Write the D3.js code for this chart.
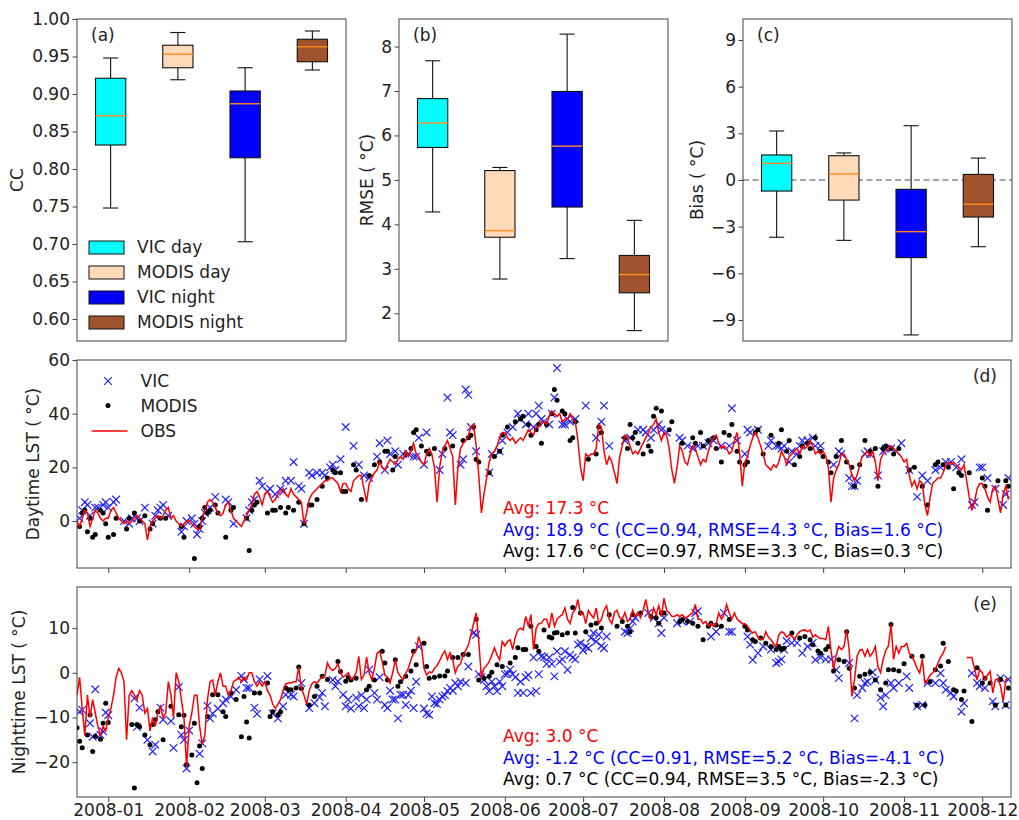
<!DOCTYPE html>
<html>
<head>
<meta charset="utf-8">
<script src="https://cdn.jsdelivr.net/npm/d3@7"></script>
<style>
body { margin: 0; background: #fff; }
svg { font-family: "DejaVu Sans", sans-serif; }
</style>
</head>
<body>
<div id="chart"></div>
<script>
// ---- box plot data: [low whisker, Q1, median, Q3, high whisker]
var groups = ["VIC day", "MODIS day", "VIC night", "MODIS night"];
var groupColors = ["#00ffff", "#ffdab9", "#0000ff", "#a0522d"];
var ccStats = [
  [0.748, 0.832, 0.871, 0.921, 0.948],
  [0.919, 0.935, 0.953, 0.965, 0.982],
  [0.703, 0.815, 0.887, 0.904, 0.935],
  [0.932, 0.943, 0.963, 0.973, 0.984]
];
var rmseStats = [
  [4.28, 5.73, 6.28, 6.83, 7.68],
  [2.77, 3.71, 3.86, 5.21, 5.28],
  [3.23, 4.39, 5.76, 6.99, 8.28],
  [1.61, 2.46, 2.87, 3.30, 4.09]
];
var biasStats = [
  [-3.68, -0.71, 1.07, 1.61, 3.15],
  [-3.88, -1.29, 0.39, 1.56, 1.74],
  [-9.96, -4.99, -3.32, -0.60, 3.49],
  [-4.29, -2.38, -1.56, 0.36, 1.41]
];
var ccTicks = [0.60, 0.65, 0.70, 0.75, 0.80, 0.85, 0.90, 0.95, 1.00];
var rmseTicks = [2, 3, 4, 5, 6, 7, 8];
var biasTicks = [-9, -6, -3, 0, 3, 6, 9];

// ---- daily series, first value = 2007-12-20
var firstDay = new Date(2007, 11, 20);
var lastDay = new Date(2008, 11, 12);

var obsDay = [
  0, -2, 1, 4, 3, -2, 1, 4, 3, 1, 0, 1,
  1, 4, 5, 3, 1, 0, -1, 0, -1, 0, 1, 2, 1, 0, -1, -7, -2, 0, 1, 2, 1, 2, 4, 5, 1, 2, 0, -1, -2, -1, 0,
  0, -1, -2, -3, -3, 1, 4, 7, 8, 7, 5, 3, 2, 3, 6, 7, 4, 1, 0, -1, -2, 0, 2, 4, 6, 10, 11, 9, 6,
  10, 11, 9, 7, 8, 10, 11, 12, 10, 9, 12, 10, 9, 8, 7, -1, 3, 8, 10, 11, 12, 13, 14, 15, 15, 16, 16, 15, 14, 11, 14,
  14, 12, 11, 15, 16, 17, 17, 12, 7, 14, 16, 18, 19, 22, 20, 19, 21, 23, 22, 21, 23, 24, 23, 26, 24, 26, 29, 25, 24, 22,
  21, 25, 27, 25, 20, 7, 20, 26, 28, 30, 27, 24, 6, 20, 27, 29, 30, 32, 35, 36, 28, 17, 3, 10, 16, 22, 25, 26, 28, 31, 33,
  33, 31, 30, 31, 29, 30, 31, 30, 32, 34, 33, 32, 35, 35, 37, 37, 36, 39, 41, 40, 39, 40, 37, 38, 38, 40, 38, 37, 30, 20,
  15, 25, 24, 25, 25, 27, 36, 35, 26, 21, 24, 22, 18, 14, 24, 28, 32, 31, 28, 25, 26, 25, 27, 29, 31, 33, 35, 36, 38, 33, 30,
  33, 32, 27, 19, 14, 20, 28, 26, 22, 21, 25, 28, 27, 24, 21, 23, 22, 26, 29, 31, 32, 29, 27, 28, 27, 25, 26, 30, 33, 25, 13,
  22, 24, 28, 31, 33, 31, 28, 25, 21, 20, 19, 21, 20, 22, 26, 24, 21, 24, 25, 26, 27, 25, 28, 27, 28, 30, 28, 25, 26, 25,
  26, 24, 20, 7, 16, 19, 21, 25, 25, 23, 21, 17, 15, 17, 21, 24, 25, 26, 24, 26, 22, 15, 23, 25, 26, 27, 28, 27, 26, 25, 24,
  22, 23, 17, 13, 15, 12, 15, 14, 6, 2, 9, 14, 15, 16, 16, 18, 21, 22, 21, 22, 21, 20, 19, 21, 15, 9, 4, 7, 12, 14,
  14, 12, 9, 7, 12, 13, 8, 3, 10, 13, 8
];

var vicDay = [
  null, 1, 4, 7, 6, 2, null, 5, 5, null, 6, 7,
  5, null, 7, 8, null, null, 0, null, -1, 1, null, 1, 0, null, 5, null, null, -1, 2, 4, 5, 6, null, 2, null, null, null, null, -4, -2, 0,
  null, 1, -1, -5, -3, 0, 3, 4, 5, null, 9, null, null, null, 8, 7, null, -1, null, null, null, null, 1, 4, 7, 8, null, 15, 13,
  null, 11, 12, null, 10, null, 12, 11, 15, null, 15, 22, null, 13, 12, -1, null, 18, 17, null, 18, null, 18, 17, null, 20, 21, 19, null, 23, null,
  35, null, null, 28, null, 21, null, 17, null, 16, null, null, 24, 29, null, 19, 30, 25, null, 26, 21, null, 25, null, 25, null, 24, 24, 31, null,
  21, 33, null, null, null, null, 19, 25, null, 46, 33, 32, null, null, 21, 23, 49, 47, 35, null, 26, null, null, null, null, 18, 25, null, null, 26, 30,
  null, 33, null, 35, null, 40, 38, null, 36, 40, null, 35, 40, 43, 38, 37, null, 36, 40, 46, 57, null, 36, 36, 38, 37, null, 38, null, null,
  null, 43, null, null, null, 31, null, 37, 43, null, 28, null, null, null, null, null, 30, null, 31, null, null, 34, null, 34, 33, null, 31, 34, null, 36, 34,
  null, 33, null, null, null, null, 31, 30, null, 28, null, 27, null, 28, null, 28, null, 29, null, 30, null, null, 28, null, null, 28, 42, null, 30, null, null,
  25, 34, 33, null, null, 34, null, null, null, 28, 30, null, 28, 28, 27, 28, null, 22, 26, null, 25, 28, 30, null, 30, null, 31, 28, null, 28,
  null, null, null, null, 21, null, 26, 25, null, null, 16, 13, 13, 15, null, null, 25, 26, 25, null, null, 17, null, 26, 27, null, 27, null, 26, null, 29,
  null, null, 19, null, null, 9, null, 17, null, 15, null, null, 19, null, 20, null, 22, null, 22, null, 20, null, 23, null, null, null, 6, 7, null, 20,
  20, null, 16, null, null, 12, null, null, 6, 10, 16
];

var modisDay = [
  null, -2, 3, 4, -4, 1, -6, -5, null, 4, 3, -1,
  -6, null, -5, 1, null, null, null, -3, 1, null, 3, null, 0, null, 2, null, -3, -1, null, null, 1, null, 1, null, null, null, null, null, -2, -6, null,
  null, null, -14, null, -2, 1, 5, 3, 4, null, 6, 3, null, null, -6, null, 4, 5, null, null, null, null, 1, -11, 4, 6, 7, null, null,
  null, 3, null, 4, 4, null, 5, null, 3, 5, null, 4, null, 7, null, -1, null, 6, 6, null, 8, null, 13, null, 16, null, 19, 18, null, 18, 11,
  11, null, null, 21, 19, null, 8, null, null, 17, null, 21, null, 22, null, 26, 26, null, 19, 24, null, null, null, 25, null, 27, 33, 34, null, 28,
  null, 26, 25, null, 27, null, null, null, 27, null, null, 28, null, null, null, 30, null, 31, 32, 35, 23, 22, null, null, null, 18, null, 24, null, 26, 32,
  null, 35, null, null, 37, null, 38, 39, null, 36, 32, null, 34, 36, 29, null, 36, null, 40, 49, 45, null, 41, 40, null, 30, 31, 37, null, null,
  null, null, 23, null, null, 25, 35, 33, null, null, null, null, null, null, null, null, 31, 27, 36, 31, 33, 29, null, 25, null, 28, 26, 39, 42, null, 41,
  null, null, 34, 37, null, null, null, 29, null, null, null, 31, 29, null, 33, 28, null, 30, null, 31, 27, null, 22, 33, null, 32, 36, null, 26, 22, null,
  21, 22, null, null, 33, 34, null, 25, null, null, 32, null, null, 29, 34, null, 26, 30, null, 21, null, 24, 28, null, 29, 27, null, 31, null, 26,
  24, null, 22, 18, null, 24, null, 30, null, 22, null, 20, 13, null, 21, null, 30, null, 26, null, 27, 13, null, 27, 28, null, 27, 25, null, 27, null,
  null, null, 19, null, 20, null, null, 13, null, 6, null, null, 21, 22, null, 21, null, 20, null, 12, null, 18, 17, null, null, 18, null, null, null, null,
  16, 13, 4, null, null, null, 15, null, null, 15, 13
];

var obsNight = [
  -5, -1, -8, -14, -5, -10, -6, -9, -12, -14, -12, -13,
  -10, -8, -5, -1, 1, 0, -2, -15, -5, -4, -5, -6, -4, -5, -9, -8, -13, -10, -12, -9, -7.5, -10, -9, -2, -5, -10, 0, -2, -6, -10, -21,
  -12, -9, -5, -5, -12, -16, -14, -6, -2, -1.6, -5, -2, 0, -3, -3, -5, -4, -2, -1.6, -1, -2, -1, -1.6, 0, 0, -2, -3, -2, -3,
  -2, -4, -5, -7, -8, -7, -6, -4, -2.5, -2.3, -2.3, -2, -2, 1.3, -3.5, -5, -7, -4, -2.5, -2, -2.3, -1.5, -1, -0.8, 2.2, 1, 0.5, 1, 2, 0, -1,
  -0.5, 0, -1.5, -1, 0, 3.7, -1.5, -0.5, 3.5, 0, -1.6, 1, 4.4, 4.8, 2.5, -0.5, -1, -2.3, 0, 2.9, 0, -0.8, -1.6, -0.1, 1, 2.9, 4.4, 5, 8.1, 6,
  1, -0.5, 0.2, 0, 1, 1.6, 2.7, 4, 4.9, 3, 4.5, 2.9, 0, 1.5, 2, 3.9, 5, 6.2, 8.5, 11, 13.4, 7, -1.1, 1, 1.6, 2.5, 4, 5.6, 4, 2.9, 7,
  6, 7, 7.4, 5.2, 8, 9.6, 10, 9.6, 12.6, 10.4, 13, 5.2, 10, 11, 11.1, 12, 12, 10, 13.4, 10.4, 12, 12.6, 13, 14.5, 12, 11, 13.4, 14.2, 16.4, 13,
  13.4, 11, 14, 13, 12.3, 14.5, 11, 12, 14, 15, 12, 11, 13.5, 14, 12.3, 12, 13.5, 11.5, 12, 14, 12.6, 13.5, 12.3, 14, 16.4, 13.4, 12, 14.5, 13, 15, 12.6,
  16.7, 14, 13.4, 12.6, 12.6, 13, 12.6, 13, 12.3, 12.5, 13, 13.4, 15.3, 12, 12, 11, 11.5, 10.5, 11, 10.4, 11, 13.4, 12, 13, 15.3, 13.4, 12, 13.4, 12, 11.5, 11,
  11, 10.4, 9.5, 8.9, 9.2, 8, 7.5, 7.4, 9.2, 8, 7.4, 6.5, 5.9, 8.5, 9.2, 8.9, 8, 8.5, 8.2, 7.5, 8.5, 9.2, 9.5, 9.6, 9.2, 9.6, 8, 8.5, 8, 7.7,
  7.7, 7.4, 10.4, 5, 0.7, 4, 5.9, 5.2, 5.9, 9.6, 5, -5.3, -1.6, 3.7, 5, 5.2, 3.7, 5.2, 3.7, 4.5, 5.9, 1.4, 0, 3, 5, 6, 10.8, 3, 5.9, 4.4, 5.9,
  5.9, 6.6, 4.4, 3.7, 2.5, 1, 0, 3, -2.3, -1.6, -0.5, 0, 0.7, 2.2, 3.5, 4.4, 5.9, null, null, null, null, null, null, null, 3.4, 3.4, 3.4, 1, -1.6, 0.7,
  0, -1.6, -0.5, 0.3, -4.5, -1.6, -1.3, -3, -6.4, -1.6, -1.2
];

var vicNight = [
  null, -8.7, -8.3, null, null, -11.3, -14.3, -3.7, null, -13.9, -13.1, -8.9,
  -9.5, null, null, null, null, null, null, null, null, null, -5.7, -12.1, -7.8, null, null, -15, null, -17.6, -16.1, null, -7.8, -10.5, null, null, -10.8, -16.8, null, -3.2, -13.9, -15, -21.4,
  -12.9, null, null, null, -18.1, -15.8, null, -7.4, -10.2, -9.1, null, -8, null, -6.8, -6, null, -5.3, null, -3.8, null, -0.7, -1.5, -3.4, -3.4, null, -7.8, -9.2, -1.5, null,
  null, -0.7, null, -9.1, null, -10.2, null, -7.5, -4.9, null, -4.9, -5.3, null, null, -2.3, null, null, -7.9, null, -6.8, null, -5.5, -4.5, -7.5, null, null, -1.6, -3, -1.9, null, -4.9,
  -7.5, -6, -8, null, -5.6, -7.5, -5, -7.9, -6, 0.7, null, -4.5, -6, -1, null, -7.2, -7.9, -4, -6, -6, -10.2, -4.9, -4.9, -7.2, -5, -4, -7.9, -2, 5.9, null,
  -8, -9.1, -9.4, -5.3, -6.8, -7, -6, -5.3, -5, -4.1, -3.4, -4, -2.3, -3, -2, null, -2.3, 1.4, null, 8.9, 8.5, -0.3, -1, -1.6, -3, -4.1, -2, -3, -4.1, -2, -3,
  -0.3, -0.2, 0.7, -0.3, -1, -4.5, -2, -4.5, -1, -0.5, -4.5, 3.4, -4.1, -0.3, 3.7, 3.5, 2, 3.4, 2, -0.8, 4.8, 2.5, 3, 4.8, 0.7, 4, 3.4, 3, 6.3, 6.6,
  5, 5.9, 5.5, 7.8, 8.9, 7, 8.5, 6, 5.5, 8.1, null, null, null, null, null, null, 9.2, 8.9, 10, 11.5, 12.3, null, null, null, null, 13.4, null, 12.3, null, 11.1, 8.9,
  12.3, null, null, null, null, 11.1, null, 11.5, null, null, 11.5, null, 13.4, 13.8, null, null, null, null, 8.1, null, 9.2, null, null, 13.4, null, 9.2, 9.2, null, null, null, null,
  null, 8.1, 6.3, 2.9, null, 4.4, null, 5.9, null, null, 5.2, null, 2.2, 2.5, 3, 5.2, 7.1, null, 6.7, null, 6.7, null, 4.4, null, 5.9, null, 6.7, 2.9, null, 3.4,
  null, 3, null, 3, null, 0.7, -1.2, null, null, null, 2.2, null, -10.2, -5, null, -3.4, -2.3, -2, null, 0.1, -1.6, null, -5.6, -7.5, -5, null, -2.3, -3.4, null, -2.3, null,
  null, -0.8, -3.4, null, null, -7.5, null, -7.2, null, -2.3, null, null, -2.3, null, -0.1, -2.3, -3.8, null, -4.5, -5.3, null, null, -8.7, -6.8, null, null, -0.1, null, -2.3, -3,
  null, -3.4, null, null, -6.4, -7.5, null, -1.2, null, -7.2, -1.5
];

var modisNight = [
  -12.3, -15.3, -16.8, null, -13.9, -9.4, -17.6, -14.2, null, -14.9, -11.3, -6.8,
  -11.1, null, null, null, null, null, null, null, null, -11.6, -25.8, -11.6, -12.1, null, -13.9, null, -16.1, -11.6, -10.5, -8.7, null, -15, null, null, -7.5, null, null, -9.4, -12.1, -9.5, -20.5,
  null, -18.4, -11.3, -24.6, -16.4, -21.4, null, -9.8, null, -4.9, null, -4.9, null, -8.7, -9.8, null, -4.5, null, -6, null, -14.3, -5.3, -11, -14.6, null, -4.5, null, -4.5, null,
  null, -2.3, -9.8, -8.7, null, -9.4, -8.7, null, -3.4, -3.8, -3.8, null, -3.4, 1.3, -3.5, null, null, -7.2, null, -5.3, -3, null, -0.8, null, -1.5, null, null, null, 2.5, 0.3, null,
  -1.9, -1, -1.6, null, -1.2, null, null, null, -3.8, -3, null, -1.6, null, null, 4.8, 2.2, -1.6, null, null, 2.9, -3, -2, null, -0.8, null, 0.4, 4.8, 1.8, null, null,
  6.6, 1.4, -1.2, null, -1, null, -0.7, null, -0.7, 0.4, null, 3.4, null, 3.4, null, 4.1, null, 4.1, null, null, 12, -1.6, null, -1.2, null, -0.8, 0.1, null, 1.8, null, 1.4,
  null, null, 2.2, null, 3.4, 5.6, null, 5.2, 5.2, null, 10.4, null, 5.9, 4.8, null, 9.6, null, 8, 7.8, 8.9, 9, null, 8.5, null, 8.9, null, 14.6, 8.9, null, 13.4,
  null, 9.2, null, 10.7, null, 11.1, null, 10, null, null, 13, null, null, 10.4, null, 11.5, null, 10.4, 9.2, 13, null, null, 13.4, null, null, null, 12.6, null, 12.3, 11.1, 13.4,
  13.4, null, null, null, null, null, 11.5, 11.9, null, 11.5, null, 11.1, null, 10.4, null, 7.4, null, 10.4, 11.1, null, 10.7, null, 10.4, null, null, 11.9, null, null, null, null, null,
  10.4, 9.6, null, 7.4, 7, null, 7.8, null, 6.6, null, 5.9, null, 5.2, 5.9, 5.2, 5.5, null, null, 8.9, null, null, 7.8, null, 8.1, null, 7.4, 6.3, null, 4.9, 4.4,
  null, 5.2, 5.9, null, 0.4, null, 2.9, null, 2.5, 9.2, 1, null, -3.4, null, -0.8, null, -0.3, null, 0.1, null, -1.6, null, -3.8, null, -2.3, 0.7, 10.8, 0.7, null, 0.4, null,
  2, null, null, 3.7, null, -7.2, null, 3.7, -7.2, null, -2, null, 0.7, null, 1.5, 6.6, null, 2.5, null, -3.8, -4.1, null, -6, -4.1, null, null, -10.9, null, 1.1, null,
  -2.3, -1.2, null, -2.3, null, -7.2, null, -1.5, null, -7.2, -3.4
];

var dayTicks = [0, 20, 40, 60];
var nightTicks = [-20, -10, 0, 10];
var dayAvgText = ["Avg: 17.3 °C", "Avg: 18.9 °C (CC=0.94, RMSE=4.3 °C, Bias=1.6 °C)", "Avg: 17.6 °C (CC=0.97, RMSE=3.3 °C, Bias=0.3 °C)"];
var nightAvgText = ["Avg: 3.0 °C", "Avg: -1.2 °C (CC=0.91, RMSE=5.2 °C, Bias=-4.1 °C)", "Avg: 0.7 °C (CC=0.94, RMSE=3.5 °C, Bias=-2.3 °C)"];
var avgColors = ["#ff0000", "#0000ff", "#000000"];

// ---- drawing
var fs = 17;
var svg = d3.select("#chart").append("svg").attr("width", 1019).attr("height", 820);
svg.append("rect").attr("width", 1019).attr("height", 820).attr("fill", "#fff");

function frame(x0, y0, x1, y1) {
  svg.append("rect").attr("x", x0).attr("y", y0).attr("width", x1 - x0).attr("height", y1 - y0)
    .attr("fill", "none").attr("stroke", "#444").attr("stroke-width", 1);
}

function leftAxis(scale, x0, ticks, fmt) {
  var ax = svg.append("g").attr("transform", "translate(" + x0 + ",0)")
    .call(d3.axisLeft(scale).tickValues(ticks).tickFormat(fmt).tickSize(4.5).tickPadding(2.5));
  ax.select(".domain").remove();
  ax.selectAll("line").attr("stroke", "#444");
  ax.selectAll("text").attr("font-size", fs).attr("font-family", "DejaVu Sans").attr("fill", "#222");
}

function rotLabel(txt, cx, cy) {
  svg.append("text").attr("transform", "translate(" + cx + "," + cy + ") rotate(-90)")
    .attr("text-anchor", "middle").attr("dy", "0.35em").attr("font-size", fs).attr("fill", "#222").text(txt);
}

function plainText(txt, x, y, color, anchor) {
  svg.append("text").attr("x", x).attr("y", y).attr("font-size", fs)
    .attr("fill", color || "#222").attr("text-anchor", anchor || "start").text(txt);
}

var boxTop = 19, boxBottom = 341, boxW = 269;

function boxPanel(left, stats, domain, ticks, fmt, label, labelX, letter, zeroLine) {
  var x = d3.scaleBand().domain(groups).range([left, left + boxW]).paddingInner(0.55).paddingOuter(0.275);
  var y = d3.scaleLinear().domain(domain).range([boxBottom, boxTop]);
  var bw = x.bandwidth();

  if (zeroLine) {
    svg.append("line").attr("x1", left).attr("x2", left + boxW).attr("y1", y(0)).attr("y2", y(0))
      .attr("stroke", "#888").attr("stroke-width", 1.6).attr("stroke-dasharray", "6,3.5");
  }

  var g = svg.selectAll(null).data(stats).enter().append("g")
    .attr("transform", function(d, i) { return "translate(" + (x(groups[i]) + bw / 2) + ",0)"; });
  g.append("line").attr("y1", function(d) { return y(d[0]); }).attr("y2", function(d) { return y(d[1]); })
    .attr("stroke", "#111").attr("stroke-width", 1.1);
  g.append("line").attr("y1", function(d) { return y(d[3]); }).attr("y2", function(d) { return y(d[4]); })
    .attr("stroke", "#111").attr("stroke-width", 1.1);
  [0, 4].forEach(function(k) {
    g.append("line").attr("x1", -bw / 4).attr("x2", bw / 4)
      .attr("y1", function(d) { return y(d[k]); }).attr("y2", function(d) { return y(d[k]); })
      .attr("stroke", "#111").attr("stroke-width", 1.1);
  });
  g.append("rect").attr("x", -bw / 2).attr("width", bw)
    .attr("y", function(d) { return y(d[3]); })
    .attr("height", function(d) { return y(d[1]) - y(d[3]); })
    .attr("fill", function(d, i) { return groupColors[i]; })
    .attr("stroke", "#111").attr("stroke-width", 1.1);
  g.append("line").attr("x1", -bw / 2).attr("x2", bw / 2)
    .attr("y1", function(d) { return y(d[2]); }).attr("y2", function(d) { return y(d[2]); })
    .attr("stroke", "#ff8c1a").attr("stroke-width", 1.4);

  frame(left, boxTop, left + boxW, boxBottom);
  leftAxis(y, left, ticks, fmt);
  rotLabel(label, labelX, 180);
  plainText(letter, left + 14, 41);
  return y;
}

boxPanel(77, ccStats, [0.5707, 1.0], ccTicks, d3.format(".2f"), "CC", 17.5, "(a)", false);
boxPanel(399, rmseStats, [1.376, 8.62], rmseTicks, d3.format("d"), "RMSE ( °C)", 367, "(b)", false);
boxPanel(743, biasStats, [-10.35, 10.35], biasTicks, d3.format("d"), "Bias ( °C)", 697, "(c)", true);

// legend of panel (a)
var legA = svg.selectAll(null).data(groups).enter().append("g")
  .attr("transform", function(d, i) { return "translate(89," + (247.5 + i * 25) + ")"; });
legA.append("rect").attr("x", 0).attr("y", -6.5).attr("width", 35).attr("height", 13)
  .attr("fill", function(d, i) { return groupColors[i]; }).attr("stroke", "#111").attr("stroke-width", 1);
legA.append("text").attr("x", 48).attr("dy", "0.35em").attr("font-size", fs).attr("fill", "#222")
  .text(function(d) { return d; });

// ---- time series panels
var xTime = d3.scaleTime().domain([firstDay, lastDay]).range([77, 1011]);
function dayDate(i) { return d3.timeDay.offset(firstDay, i); }
function toPoints(arr) {
  return arr.map(function(v, i) { return { date: dayDate(i), v: v }; })
    .filter(function(p) { return p.v !== null; });
}

var xShape = "M-3.8,-3.8L3.8,3.8M-3.8,3.8L3.8,-3.8";

function seriesPanel(top, bottom, domain, ticks, obs, vic, modis, label, labelX, letter, letterY, avgText, avgY, showDates, clipId) {
  var y = d3.scaleLinear().domain(domain).range([bottom, top]);

  svg.append("clipPath").attr("id", clipId).append("rect")
    .attr("x", 77).attr("y", top).attr("width", 1011 - 77).attr("height", bottom - top);
  var g = svg.append("g").attr("clip-path", "url(#" + clipId + ")");

  g.selectAll("path.vic").data(toPoints(vic)).enter().append("path").attr("class", "vic")
    .attr("d", xShape)
    .attr("transform", function(p) { return "translate(" + xTime(p.date) + "," + y(p.v) + ")"; })
    .attr("stroke", "#2020ff").attr("stroke-width", 1.2).attr("fill", "none");

  g.selectAll("circle.modis").data(toPoints(modis)).enter().append("circle").attr("class", "modis")
    .attr("cx", function(p) { return xTime(p.date); })
    .attr("cy", function(p) { return y(p.v); })
    .attr("r", 2.5).attr("fill", "#000");

  var line = d3.line()
    .defined(function(v) { return v !== null; })
    .x(function(v, i) { return xTime(dayDate(i)); })
    .y(function(v) { return y(v); });
  g.append("path").datum(obs).attr("d", line)
    .attr("fill", "none").attr("stroke", "#ff0000").attr("stroke-width", 1.5);

  frame(77, top, 1011, bottom);
  leftAxis(y, 77, ticks, d3.format("d"));

  var xa = svg.append("g").attr("transform", "translate(0," + bottom + ")")
    .call(d3.axisBottom(xTime).ticks(d3.timeMonth.every(1))
      .tickFormat(showDates ? d3.timeFormat("%Y-%m") : function() { return ""; })
      .tickSize(5).tickPadding(2));
  xa.select(".domain").remove();
  xa.selectAll("line").attr("stroke", "#444");
  xa.selectAll("text").attr("font-size", fs).attr("font-family", "DejaVu Sans").attr("fill", "#222");

  rotLabel(label, labelX, (top + bottom) / 2);
  plainText(letter, 997, letterY, "#222", "end");

  avgText.forEach(function(t, i) {
    plainText(t, 503, avgY + i * 21.6, avgColors[i]);
  });
  return y;
}

seriesPanel(360, 568, [-17.5, 60], dayTicks, obsDay, vicDay, modisDay,
  "Daytime LST ( °C)", 33, "(d)", 382, dayAvgText, 514, false, "clipD");
seriesPanel(587, 797, [-27.8, 19.2], nightTicks, obsNight, vicNight, modisNight,
  "Nighttime LST ( °C)", 19, "(e)", 610, nightAvgText, 742, true, "clipE");

// legend of panel (d)
var legD = svg.append("g");
legD.append("path").attr("d", xShape).attr("transform", "translate(108,381)")
  .attr("stroke", "#2020ff").attr("stroke-width", 1.2).attr("fill", "none");
legD.append("circle").attr("cx", 108).attr("cy", 405.5).attr("r", 2.5).attr("fill", "#000");
legD.append("line").attr("x1", 91.5).attr("x2", 127.5).attr("y1", 431).attr("y2", 431)
  .attr("stroke", "#ff0000").attr("stroke-width", 1.5);
["VIC", "MODIS", "OBS"].forEach(function(t, i) {
  legD.append("text").attr("x", 140.5).attr("y", 381 + i * 25).attr("dy", "0.35em")
    .attr("font-size", fs).attr("fill", "#222").text(t);
});
</script>
</body>
</html>
